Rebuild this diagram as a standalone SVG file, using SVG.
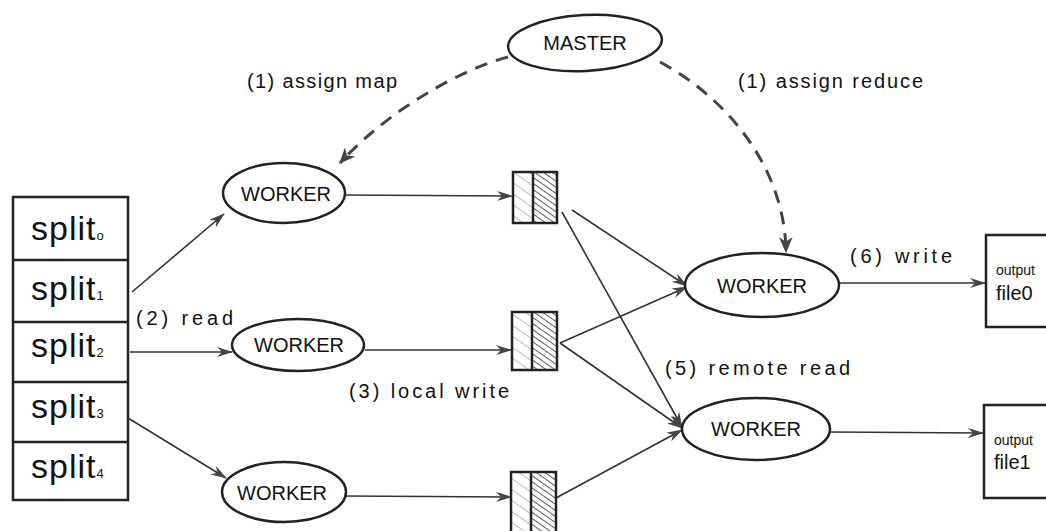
<svg xmlns="http://www.w3.org/2000/svg" width="1046" height="531" viewBox="0 0 1046 531">
<defs>
<marker id="ah" viewBox="0 0 16 10" refX="15" refY="5" markerWidth="16" markerHeight="10" markerUnits="userSpaceOnUse" orient="auto">
<path d="M0,0 L16,5 L0,10 L5,5 Z" fill="#444"/>
</marker>
<marker id="ahd" viewBox="0 0 14 12" refX="13" refY="6" markerWidth="16" markerHeight="14" markerUnits="userSpaceOnUse" orient="auto">
<path d="M0,0 L14,6 L0,12 L4,6 Z" fill="#444"/>
</marker>
<pattern id="hatch" width="5" height="5" patternUnits="userSpaceOnUse" patternTransform="rotate(-55)">
<line x1="0" y1="0" x2="0" y2="5" stroke="#333" stroke-width="1.6"/>
</pattern>
<pattern id="hatchl" width="9" height="9" patternUnits="userSpaceOnUse" patternTransform="rotate(-55)">
<line x1="0" y1="0" x2="0" y2="9" stroke="#777" stroke-width="1"/>
</pattern>
</defs>
<style>
.bg{fill:#fff}
.node{fill:#fff;stroke:#222;stroke-width:2.5}
.box{fill:none;stroke:#222;stroke-width:2.5}
.edge{fill:none;stroke:#333;stroke-width:1.6}
.dash{fill:none;stroke:#444;stroke-width:3;stroke-dasharray:13 9}
.t{font-family:"Liberation Sans",Arial,sans-serif;fill:#111}
.nl{font-size:20px;text-anchor:middle}
.lab{font-size:20px}
.sp{font-size:34px}
.sub{font-size:13px}
</style>
<rect class="bg" x="0" y="0" width="1046" height="531"/>

<g id="splits">
<rect class="box" x="13" y="197" width="115" height="303"/>
<line class="box" x1="13" y1="260" x2="128" y2="260"/>
<line class="box" x1="13" y1="322" x2="128" y2="322"/>
<line class="box" x1="13" y1="382" x2="128" y2="382"/>
<line class="box" x1="13" y1="442" x2="128" y2="442"/>
<text class="t sp" x="31" y="240" letter-spacing="1">split<tspan class="sub" dx="0">o</tspan></text>
<text class="t sp" x="31" y="300" letter-spacing="1">split<tspan class="sub" dx="0">1</tspan></text>
<text class="t sp" x="31" y="357" letter-spacing="1">split<tspan class="sub" dx="0">2</tspan></text>
<text class="t sp" x="31" y="418" letter-spacing="1">split<tspan class="sub" dx="0">3</tspan></text>
<text class="t sp" x="31" y="478" letter-spacing="1">split<tspan class="sub" dx="0">4</tspan></text>
</g>

<g id="connectors">
<path class="dash" d="M508,57 C465,68 390,108 340,163" marker-end="url(#ahd)"/>
<path class="dash" d="M660,62 C730,100 785,170 786,252" marker-end="url(#ahd)"/>
<line class="edge" x1="132" y1="292" x2="224" y2="214" marker-end="url(#ah)"/>
<line class="edge" x1="130" y1="352" x2="232" y2="352" stroke-width="2.5" marker-end="url(#ah)"/>
<line class="edge" x1="128" y1="418" x2="226" y2="478" marker-end="url(#ah)"/>
<line class="edge" x1="345" y1="195" x2="512" y2="196" marker-end="url(#ah)"/>
<line class="edge" x1="365" y1="350" x2="511" y2="350" marker-end="url(#ah)"/>
<line class="edge" x1="345" y1="496" x2="511" y2="497" marker-end="url(#ah)"/>
<line class="edge" x1="572" y1="210" x2="687" y2="286" marker-end="url(#ah)"/>
<line class="edge" x1="562" y1="212" x2="682" y2="427" marker-end="url(#ah)"/>
<line class="edge" x1="560" y1="343" x2="687" y2="287" marker-end="url(#ah)"/>
<line class="edge" x1="560" y1="343" x2="682" y2="428" marker-end="url(#ah)"/>
<line class="edge" x1="556" y1="498" x2="682" y2="430" marker-end="url(#ah)"/>
<line class="edge" x1="838" y1="283" x2="985" y2="283" marker-end="url(#ah)"/>
<line class="edge" x1="830" y1="432" x2="983" y2="433" marker-end="url(#ah)"/>
</g>

<g id="master">
<ellipse class="node" cx="585" cy="43" rx="77" ry="28" transform="rotate(-3 585 43)"/>
<text class="t nl" x="585" y="50">MASTER</text>
</g>

<g id="worker-map-1">
<ellipse class="node" cx="284" cy="193" rx="61" ry="30"/>
<text class="t nl" x="286" y="201">WORKER</text>
</g>
<g id="worker-map-2">
<ellipse class="node" cx="298" cy="345" rx="66" ry="26"/>
<text class="t nl" x="299" y="352">WORKER</text>
</g>
<g id="worker-map-3">
<ellipse class="node" cx="284" cy="492" rx="62" ry="30"/>
<text class="t nl" x="282" y="500">WORKER</text>
</g>

<g id="file-1">
<rect x="513" y="172" width="20" height="51" fill="url(#hatchl)"/>
<rect x="533" y="172" width="24" height="51" fill="url(#hatch)"/>
<rect class="box" x="513" y="172" width="44" height="51"/>
<line class="box" x1="533" y1="172" x2="533" y2="223"/>
</g>
<g id="file-2">
<rect x="512" y="312" width="20" height="58" fill="url(#hatchl)"/>
<rect x="532" y="312" width="25" height="58" fill="url(#hatch)"/>
<rect class="box" x="512" y="312" width="45" height="58"/>
<line class="box" x1="532" y1="312" x2="532" y2="370"/>
</g>
<g id="file-3">
<rect x="511" y="472" width="20" height="62" fill="url(#hatchl)"/>
<rect x="531" y="472" width="25" height="62" fill="url(#hatch)"/>
<rect class="box" x="511" y="472" width="45" height="62"/>
<line class="box" x1="531" y1="472" x2="531" y2="534"/>
</g>

<g id="worker-reduce-1">
<ellipse class="node" cx="762" cy="285" rx="77" ry="32"/>
<text class="t nl" x="762" y="293">WORKER</text>
</g>
<g id="worker-reduce-2">
<ellipse class="node" cx="756" cy="429" rx="74" ry="31"/>
<text class="t nl" x="756" y="436">WORKER</text>
</g>

<g id="output-0">
<rect class="box" x="986" y="235" width="70" height="92"/>
<text class="t" x="996" y="275" font-size="14">output</text>
<text class="t" x="996" y="300" font-size="20">file0</text>
</g>
<g id="output-1">
<rect class="box" x="984" y="405" width="70" height="93"/>
<text class="t" x="994" y="445" font-size="14">output</text>
<text class="t" x="994" y="469" font-size="20">file1</text>
</g>

<g id="labels">
<text class="t lab" x="247" y="88" textLength="150" lengthAdjust="spacing">(1) assign map</text>
<text class="t lab" x="738" y="88" textLength="185" lengthAdjust="spacing">(1) assign reduce</text>
<text class="t lab" x="136" y="325" textLength="97" lengthAdjust="spacing">(2) read</text>
<text class="t lab" x="349" y="398" textLength="160" lengthAdjust="spacing">(3) local write</text>
<text class="t lab" x="665" y="375" textLength="185" lengthAdjust="spacing">(5) remote read</text>
<text class="t lab" x="850" y="263" textLength="102" lengthAdjust="spacing">(6) write</text>
</g>
</svg>
